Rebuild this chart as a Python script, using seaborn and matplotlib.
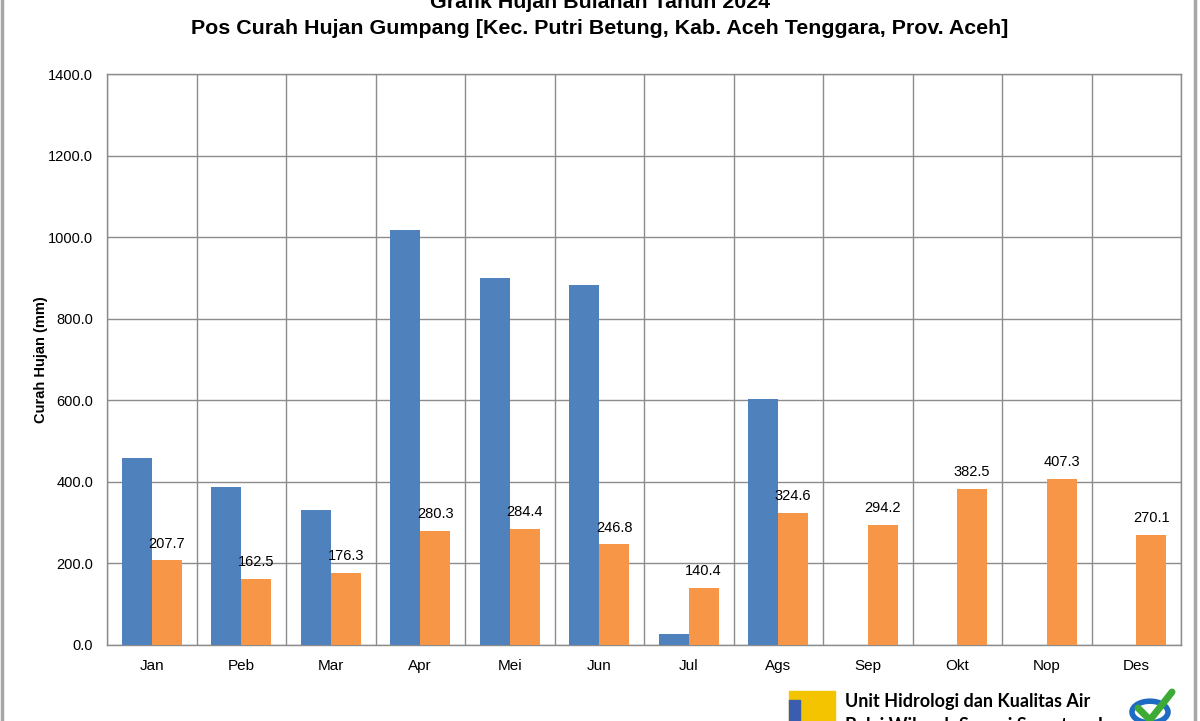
import matplotlib
matplotlib.use('Agg')
import matplotlib.pyplot as plt
import seaborn as sns
import pandas as pd
import numpy as np
from matplotlib.patches import Rectangle, Circle
from matplotlib.lines import Line2D

# ---------------- data ----------------
months = ['Jan', 'Peb', 'Mar', 'Apr', 'Mei', 'Jun', 'Jul', 'Ags', 'Sep', 'Okt', 'Nop', 'Des']
hujan_2024 = [458, 387, 331, 1017, 900, 882, 27, 603, np.nan, np.nan, np.nan, np.nan]
hujan_rerata = [207.7, 162.5, 176.3, 280.3, 284.4, 246.8, 140.4, 324.6, 294.2, 382.5, 407.3, 270.1]
series_names = ['2024', 'Rerata']
series_colors = ['#4F81BD', '#F79646']
y_ticks = [0, 200, 400, 600, 800, 1000, 1200, 1400]

title_line1 = 'Grafik Hujan Bulanan Tahun 2024'
title_line2 = 'Pos Curah Hujan Gumpang [Kec. Putri Betung, Kab. Aceh Tenggara, Prov. Aceh]'
y_label = 'Curah Hujan (mm)'
logo_line1 = 'Unit Hidrologi dan Kualitas Air'
logo_line2 = 'Balai Wilayah Sungai Sumatera I'

df = pd.DataFrame({
    'Bulan': months * 2,
    'Hujan': hujan_2024 + hujan_rerata,
    'Seri': [series_names[0]] * 12 + [series_names[1]] * 12,
})

sns.set_theme(style='white')
FONT = ['Liberation Sans', 'DejaVu Sans']
plt.rcParams['font.family'] = FONT

W, H = 1200, 721
fig = plt.figure(figsize=(W / 100, H / 100), dpi=100)
fig.patch.set_facecolor('white')
ax = fig.add_axes([107 / W, (H - 645) / H, (1181 - 107) / W, (645 - 74) / H])

sns.barplot(data=df, x='Bulan', y='Hujan', hue='Seri', order=months,
            hue_order=series_names, palette=series_colors, width=2 / 3, gap=0,
            saturation=1, errorbar=None, legend=False, ax=ax, zorder=3,
            linewidth=0)

# value labels on the orange (Rerata) series only
ax.bar_label(ax.containers[-1], labels=[f'{v:.1f}' for v in hujan_rerata], padding=7,
             fontsize=10.5, color='#000000', family=FONT)

ax.set_ylim(0, 1400)
ax.set_xlim(-0.5, 11.5)
ax.set_yticks(y_ticks)
ax.set_yticklabels([f'{v:.1f}' for v in y_ticks])
ax.set_xticks(range(12))
ax.set_xticklabels(months)
ax.set_xticks(np.arange(-0.5, 12, 1), minor=True)

ax.grid(False)
ax.yaxis.grid(True, which='major', color='#8c8c8c', linewidth=1.0, zorder=0)
ax.xaxis.grid(True, which='minor', color='#8c8c8c', linewidth=1.0, zorder=0)
ax.set_axisbelow(True)
for s in ax.spines.values():
    s.set_visible(True)
    s.set_color('#8c8c8c')
    s.set_linewidth(1.0)

ax.tick_params(axis='both', which='both', length=0)
ax.tick_params(axis='y', pad=10, labelsize=10.5, labelcolor='#000000')
ax.tick_params(axis='x', pad=10, labelsize=11, labelcolor='#000000')
ax.set_xlabel('')
ax.set_ylabel(y_label, fontsize=10.5, fontweight='bold', color='#000000')
ax.yaxis.set_label_coords((48 - 107) / (1181 - 107), 0.5)

# titles
fig.text(0.5, 1 - 3 / H, title_line1, ha='center', va='center', fontsize=15.4,
         fontweight='bold', family=FONT, color='#000000')
fig.text(0.5, 1 - 28 / H, title_line2, ha='center', va='center', fontsize=15.4,
         fontweight='bold', family=FONT, color='#000000')

# outer frame lines
fig.add_artist(Line2D([2 / W, 2 / W], [0, 1], color='#a6a6a6', lw=2.5, transform=fig.transFigure))
fig.add_artist(Line2D([1195 / W, 1195 / W], [0, 1], color='#a6a6a6', lw=2.5, transform=fig.transFigure))

# footer logo (approximation)
fig.add_artist(Rectangle((789 / W, 0), (835 - 789) / W, (721 - 691) / H,
                         transform=fig.transFigure, color='#F5C400', zorder=5))
fig.add_artist(Rectangle((789 / W, 0), (800 - 789) / W, (721 - 700) / H,
                         transform=fig.transFigure, color='#3A5DAE', zorder=6))
fig.add_artist(Circle((1150 / W, (721 - 712) / H), 18 / W, transform=fig.transFigure,
                      facecolor='white', edgecolor='#1E6BC4', lw=4, zorder=5))
fig.add_artist(Line2D([1138 / W, 1150 / W, 1172 / W],
                      [(721 - 708) / H, (721 - 720) / H, (721 - 692) / H],
                      color='#3DAA35', lw=5, transform=fig.transFigure, zorder=6))
fig.text(845 / W, 1 - 701 / H, logo_line1, ha='left', va='center', fontsize=13,
         fontweight='bold', family=['Lato', 'DejaVu Sans'], color='#000000')
fig.text(845 / W, 1 - 726 / H, logo_line2, ha='left', va='center', fontsize=13,
         fontweight='bold', family=['Lato', 'DejaVu Sans'], color='#000000')

fig.savefig('out.png', dpi=100, facecolor='white')
